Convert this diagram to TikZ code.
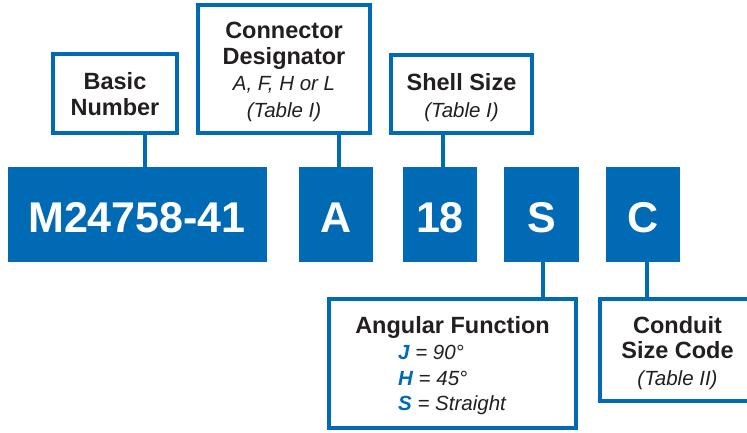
\documentclass[tikz,border=0pt]{standalone}
\usepackage{fontspec}
\setmainfont{Liberation Sans}
\definecolor{cblue}{RGB}{0,106,180}
\definecolor{ctext}{RGB}{35,31,32}
\begin{document}
\begin{tikzpicture}[x=1pt,y=-1pt,
  codebox/.style={fill=cblue, inner sep=0pt, outer sep=0pt},
  codetxt/.style={text=white, font=\bfseries\fontsize{43}{50}\selectfont, anchor=base, inner sep=0pt},
  labbox/.style={draw=cblue, line width=4pt, fill=white, inner sep=0pt},
  boldtxt/.style={text=ctext, font=\bfseries\fontsize{23.5}{26}\selectfont, anchor=base, inner sep=0pt},
  italtxt/.style={text=ctext, font=\itshape\fontsize{20.5}{26}\selectfont, anchor=base, inner sep=0pt},
  keytxt/.style={text=ctext, font=\itshape\fontsize{20.5}{26}\selectfont, anchor=base west, inner sep=0pt},
  link/.style={draw=cblue, line width=4.5pt}]
\useasboundingbox (0,0) rectangle (747,432);
\clip (0,0) rectangle (747,432);

% code boxes
\node[codebox, minimum width=259pt, minimum height=95pt] (M) at (137.5,214.5) {};
\node[codebox, minimum width=74pt, minimum height=95pt] (A) at (336,214.5) {};
\node[codebox, minimum width=74pt, minimum height=95pt] (N) at (440,214.5) {};
\node[codebox, minimum width=75pt, minimum height=95pt] (S) at (541.5,214.5) {};
\node[codebox, minimum width=74pt, minimum height=95pt] (C) at (643,214.5) {};
\node[codetxt] (Mt) at (137,232) {M24758-41};
\node[codetxt] (At) at (336,232) {A};
\node[codetxt] (Nt) at (440,232) {18};
\node[codetxt] (St) at (541.5,232) {S};
\node[codetxt] (Ct) at (643,232) {C};

% label boxes
\node[labbox, minimum width=124pt, minimum height=79pt] (basic) at (115,93.5) {};
\node[labbox, minimum width=172pt, minimum height=128pt] (desig) at (284,69) {};
\node[labbox, minimum width=141pt, minimum height=78pt] (shell) at (461.5,94) {};
\node[labbox, minimum width=247pt, minimum height=129pt] (ang) at (452.5,363.5) {};
\node[labbox, minimum width=154pt, minimum height=102pt] (cond) at (677,350) {};

% connectors
\draw[link] ([xshift=30pt]basic.south) -- ([xshift=30pt]basic.south |- M.north);
\draw[link] ([xshift=55pt]desig.south) -- ([xshift=55pt]desig.south |- A.north);
\draw[link] ([xshift=-18.5pt]shell.south) -- ([xshift=-18.5pt]shell.south |- N.north);
\draw[link] ([xshift=1.5pt]S.south) -- ([xshift=1.5pt]S.south |- ang.north);
\draw[link] ([xshift=4pt]C.south) -- ([xshift=4pt]C.south |- cond.north);

% label texts
\node[boldtxt] (b1) at (115,89) {Basic};
\node[boldtxt] (b2) at (115,115) {Number};

\node[boldtxt] (d1) at (284,38) {Connector};
\node[boldtxt] (d2) at (284,64) {Designator};
\node[italtxt] (d3) at (284,90.5) {A, F, H or L};
\node[italtxt] (d4) at (284,117) {(Table I)};

\node[boldtxt] (s1) at (461.5,90) {Shell Size};
\node[italtxt] (s2) at (461.5,117) {(Table I)};

\node[boldtxt] (a1) at (452.5,333) {Angular Function};
\node[keytxt] (a2) at (398,359.5) {\textcolor{cblue}{\bfseries J} = 90°};
\node[keytxt] (a3) at (398,385) {\textcolor{cblue}{\bfseries H} = 45°};
\node[keytxt] (a4) at (398,410) {\textcolor{cblue}{\bfseries S} = Straight};

\node[boldtxt] (c1) at (677.5,333) {Conduit};
\node[boldtxt] (c2) at (677.5,358) {Size Code};
\node[italtxt] (c3) at (677.5,385) {(Table II)};
\end{tikzpicture}
\end{document}
